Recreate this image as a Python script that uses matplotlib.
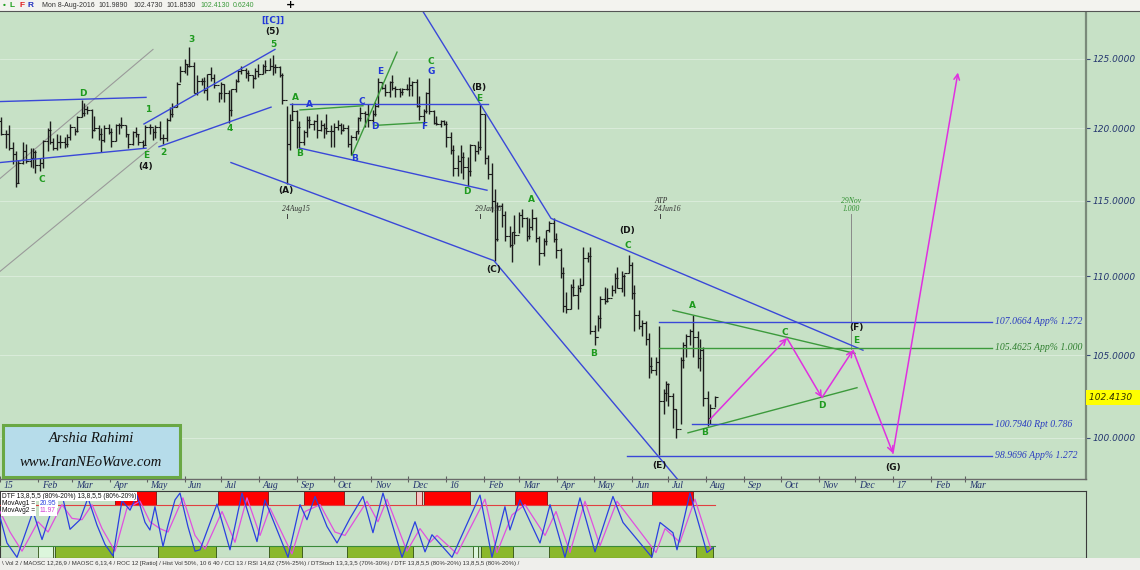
import matplotlib
matplotlib.use("Agg")
import matplotlib.pyplot as plt
import numpy as np
import pandas as pd
from matplotlib.patches import Rectangle
from matplotlib import transforms
from matplotlib.ticker import NullLocator

# ---------------------------------------------------------------- data
ORIGIN = pd.Timestamp("2015-01-01")          # x axis = days since this date

# USDJPY, two-day OHLC bars (one line per month), Jan 2015 .. 8 Aug 2016
bar_high = [
    120.8, 119.9, 120.2, 119.0, 118.4, 117.8, 119.0, 118.9, 118.6, 118.6, 118.5,
    117.9, 119.2, 120.0, 120.5, 119.3, 119.6, 119.5, 119.4, 119.6, 120.3,
    120.0, 120.9, 122.0, 121.8, 121.6, 121.4, 120.9, 120.2, 120.0, 120.2, 120.3,
    120.0, 120.3, 120.4, 120.8, 120.2, 119.6, 119.8, 120.1, 119.6, 119.2, 120.2,
    120.3, 120.0, 120.2, 120.5, 119.6, 120.7, 121.5, 121.8, 123.3, 124.5,
    125.0, 124.6, 125.86, 124.8, 123.8, 123.6, 123.7, 123.9, 124.4, 123.9, 122.6,
    123.3, 123.2, 122.7, 122.8, 123.5, 124.2, 124.5, 124.3, 124.2, 123.8, 124.3, 124.6,
    124.6, 124.9, 125.1, 125.3, 124.6, 124.5, 124.0, 121.6, 121.0, 121.8,
    121.3, 120.5, 119.9, 120.9, 120.9, 120.6, 121.0, 120.6, 120.4, 121.0, 120.2,
    120.4, 120.6, 120.4, 120.3, 120.2, 119.5, 119.8, 120.8, 121.5, 121.2, 121.7,
    121.3, 121.9, 123.6, 123.3, 123.2, 123.4, 123.8, 123.0, 122.9, 122.9, 123.2,
    123.7, 123.4, 123.5, 122.3, 121.4, 122.6, 123.6, 121.3, 120.9, 120.6, 120.6,
    120.5, 119.7, 118.8, 118.1, 118.8, 118.3, 118.0, 118.9, 118.8, 119.1, 121.7,
    121.0, 118.1, 117.6, 115.8, 114.9, 114.8, 114.3, 113.3, 112.9, 114.0,
    114.2, 114.4, 113.9, 113.8, 114.4, 113.9, 112.6, 112.5, 113.0, 113.6, 113.8, 112.8,
    111.8, 110.6, 109.0, 109.5, 109.8, 109.4, 109.9, 111.9, 111.6, 111.9,
    106.9, 107.5, 108.7, 109.3, 109.2, 109.4, 110.2, 110.6, 110.3, 110.1, 111.4,
    110.9, 109.4, 107.8, 107.2, 107.1, 106.4, 104.9, 104.9, 106.8, 102.9, 103.4,
    103.3, 102.7, 101.7, 104.9, 105.8, 106.3, 106.6, 107.5, 106.5, 106.0, 105.5,
    102.8, 102.0, 102.473,
]
bar_low = [
    119.5, 118.6, 118.5, 117.5, 115.9, 116.2, 117.5, 117.6, 117.3, 117.2, 116.9,
    117.0, 117.2, 118.4, 118.9, 118.5, 118.5, 118.6, 118.6, 118.7, 119.2,
    119.5, 119.7, 120.8, 120.9, 121.0, 119.3, 119.8, 119.2, 118.3, 119.0, 119.6,
    118.7, 119.1, 119.6, 120.0, 119.4, 118.6, 118.8, 119.4, 118.8, 118.6, 118.8,
    119.6, 119.2, 119.3, 119.2, 118.9, 119.1, 120.5, 120.8, 121.5, 123.3,
    124.0, 123.8, 124.4, 122.5, 122.4, 123.1, 122.5, 122.0, 123.4, 122.9, 121.9,
    122.1, 121.9, 120.4, 120.9, 122.6, 123.3, 123.9, 123.6, 123.4, 122.9, 123.5, 123.7,
    123.9, 124.0, 124.2, 123.8, 124.0, 123.7, 121.7, 116.15, 118.5, 120.6,
    118.6, 118.6, 118.8, 119.4, 120.0, 119.9, 119.3, 119.8, 119.3, 119.6, 118.7,
    118.7, 119.9, 119.6, 119.8, 118.7, 118.1, 119.2, 119.6, 120.5, 120.1, 120.1,
    120.3, 120.9, 121.5, 122.8, 122.3, 122.2, 122.7, 122.2, 122.2, 122.4, 122.7,
    122.3, 122.3, 121.5, 120.6, 120.3, 121.1, 121.0, 120.3, 120.2, 120.1, 120.2,
    118.7, 118.2, 116.7, 116.7, 116.9, 116.5, 116.0, 116.7, 117.7, 118.2, 118.5,
    117.5, 116.5, 114.2, 111.0, 112.3, 113.2, 112.3, 111.9, 110.9, 112.1,
    112.8, 113.2, 112.3, 112.4, 113.0, 112.2, 110.7, 111.3, 112.0, 112.9, 112.2, 111.2,
    109.9, 107.7, 107.6, 107.9, 108.7, 107.9, 109.0, 109.4, 110.9, 106.3,
    105.6, 106.5, 106.7, 108.2, 108.3, 108.7, 108.9, 109.2, 109.0, 108.7, 110.2,
    108.5, 106.5, 106.6, 106.2, 105.6, 103.6, 103.9, 103.8, 99.0, 101.4, 102.2,
    101.9, 100.6, 100.0, 100.8, 104.2, 104.9, 105.6, 104.9, 104.2, 104.0, 101.9,
    100.7, 100.8, 101.853,
]
bar_close = [
    119.6, 119.6, 118.6, 118.2, 116.2, 117.6, 118.4, 117.7, 117.9, 118.3, 117.4,
    117.6, 119.1, 119.9, 119.0, 118.6, 119.0, 119.0, 118.9, 119.4, 120.1,
    119.8, 120.8, 121.1, 121.4, 121.3, 119.9, 120.0, 119.6, 119.2, 120.0, 119.7,
    119.1, 120.2, 120.2, 120.2, 119.6, 118.9, 119.7, 119.6, 119.0, 118.8, 120.1,
    120.1, 119.7, 120.1, 119.3, 119.3, 120.6, 121.0, 121.5, 123.2, 124.1,
    124.6, 124.5, 124.5, 122.5, 123.4, 123.4, 122.7, 123.9, 123.6, 123.1, 122.5,
    123.2, 122.5, 121.3, 122.8, 123.4, 124.1, 124.2, 124.0, 123.8, 123.6, 124.1, 123.9,
    124.5, 124.2, 124.5, 124.4, 124.4, 123.8, 122.0, 118.9, 120.6, 121.2,
    120.1, 119.0, 119.7, 120.6, 120.3, 120.5, 119.9, 120.2, 120.0, 119.8, 119.8,
    120.1, 120.2, 119.9, 120.0, 118.9, 119.4, 119.8, 120.7, 121.1, 121.0, 120.6,
    121.0, 121.6, 123.3, 122.9, 122.6, 123.3, 122.9, 122.8, 122.6, 122.8, 122.8,
    123.1, 123.3, 121.6, 120.9, 121.2, 122.5, 121.2, 120.4, 120.3, 120.5, 120.3,
    119.4, 118.5, 117.2, 117.7, 118.0, 117.3, 117.0, 118.8, 118.4, 118.7, 121.0,
    117.9, 116.8, 115.0, 112.4, 114.6, 114.0, 112.6, 112.0, 112.9, 112.7,
    114.0, 113.8, 112.6, 113.2, 113.8, 112.5, 111.5, 112.3, 113.0, 113.5, 112.4, 111.7,
    110.2, 108.1, 107.9, 109.3, 108.8, 109.2, 109.4, 111.2, 111.3, 106.5,
    106.1, 107.3, 108.5, 108.4, 108.6, 109.1, 109.9, 109.2, 110.0, 110.2, 110.7,
    108.9, 107.5, 106.8, 107.0, 106.0, 104.3, 104.1, 104.6, 102.2, 102.7, 103.2,
    102.5, 101.7, 100.5, 104.7, 105.6, 106.2, 106.5, 106.1, 104.8, 105.3, 102.4,
    101.2, 101.8, 102.413,
]
first_open = 120.5

# header (last bar)
header_date = "Mon 8-Aug-2016"
header_ohlc = [101.9890, 102.4730, 101.8530, 102.4130]
header_change = 0.6240
last_price = 102.4130

# price-axis ticks
price_ticks = [100, 105, 110, 115, 120, 125]

# trend lines: lists of (day, price)
grey_trendlines = [
    [(0, 116.5), (125.2, 125.7)],
    [(0, 110.3), (128.5, 119.0)],
]
blue_trendlines = [
    [(0, 121.9), (119.5, 122.2)],
    [(0, 117.6), (119.5, 118.6)],
    [(117.8, 120.3), (225.0, 125.7)],
    [(130.1, 118.7), (221.8, 121.5)],
    [(189.0, 117.6), (404.2, 111.0), (564.6, 96.75)],
    [(343.7, 128.9), (450.9, 113.8), (706.2, 105.3)],
    [(237.3, 121.7), (399.3, 121.7)],
    [(245.5, 118.6), (398.5, 115.7)],
]
green_trendlines = [
    [(245.5, 121.3), (297.0, 121.6)],
    [(288.0, 118.1), (324.9, 125.5)],
    [(306.9, 120.2), (346.1, 120.4)],
    [(550.7, 107.8), (699.6, 105.1)],
    [(563.0, 100.3), (701.3, 103.0)],
]

# projected path (magenta arrows)
proj_days = [581.0, 644.0, 672.6, 698.0, 730.7, 783.9]
proj_prices = [101.1, 106.05, 102.4, 105.3, 99.1, 124.0]

# Fibonacci levels
level_prices = [107.0664, 105.4625, 100.7940, 98.9696]
level_texts = ["107.0664 App% 1.272", "105.4625 App% 1.000",
               "100.7940 Rpt 0.786", "98.9696 App% 1.272"]
level_start_days = [539.3, 539.3, 566.3, 513.1]
level_end_day = 811.8
level_colors = ["blue", "green", "blue", "blue"]

# wave labels: (text, day, price, colour)
wave_labels = [
    ("[[C]]", 223.4, 127.9, "blue"), ("(5)", 223.4, 127.0, "black"),
    ("5", 223.4, 126.1, "green"), ("3", 156.3, 126.4, "green"),
    ("D", 67.9, 122.5, "green"), ("1", 121.1, 121.3, "green"),
    ("2", 133.4, 118.3, "green"), ("4", 188.2, 120.0, "green"),
    ("C", 34.4, 116.4, "green"), ("E", 119.5, 118.1, "green"),
    ("(4)", 119.5, 117.3, "black"), ("(A)", 234.0, 115.7, "black"),
    ("A", 241.4, 122.2, "green"), ("A", 252.9, 121.7, "blue"),
    ("B", 245.5, 118.2, "green"), ("B", 290.5, 117.9, "blue"),
    ("C", 296.2, 121.9, "blue"), ("D", 306.9, 120.1, "blue"),
    ("E", 311.0, 124.1, "blue"), ("F", 347.0, 120.1, "blue"),
    ("C", 352.7, 124.8, "green"), ("G", 352.7, 124.1, "blue"),
    ("(B)", 392.0, 122.9, "black"), ("E", 392.0, 122.1, "green"),
    ("D", 382.1, 115.6, "green"), ("(C)", 404.2, 110.4, "black"),
    ("A", 435.3, 115.1, "green"), ("B", 486.1, 105.1, "green"),
    ("(D)", 513.1, 113.0, "black"), ("C", 513.9, 112.0, "green"),
    ("A", 566.3, 108.1, "green"), ("B", 576.9, 100.3, "green"),
    ("(E)", 539.3, 98.4, "black"), ("C", 642.4, 106.4, "green"),
    ("D", 672.6, 101.95, "green"), ("(F)", 700.5, 106.7, "black"),
    ("E", 700.5, 105.9, "green"), ("(G)", 730.7, 98.3, "black"),
]

# date markers: (day, text lines)
marker_days = [235, 393, 540]
marker_texts = [["24Aug15"], ["29Jan16"], ["ATP", "24Jun16"]]
target_day = 696.4
target_texts = ["29Nov", "1.000"]
target_range = (105.4, 114.1)

# DTF oscillator (value 0-100)
osc_blue_days = [0.0, 5.7, 13.9, 27.0, 34.4, 45.0, 50.7, 57.3, 65.5, 72.0, 79.4, 85.9,
                 92.5, 99.8, 106.4, 112.1, 118.7, 122.7, 126.8, 133.4, 137.5, 143.2,
                 147.3, 153.8, 159.6, 163.7, 177.6, 188.2, 198.0, 210.3, 216.8, 235.7,
                 245.5, 251.2, 257.8, 267.6, 275.8, 286.4, 297.0, 305.2, 313.4, 329.0,
                 339.6, 347.8, 353.5, 369.9, 392.8, 402.6, 413.2, 417.3, 425.5, 441.9,
                 450.1, 462.3, 474.6, 486.9, 501.6, 509.8, 533.5, 540.1, 550.7, 554.0,
                 564.6, 578.5, 583.4]
osc_blue_vals = [62, 24, 3, 70, 29, 87, 95, 44, 58, 90, 50, 22,
                 5, 86, 72, 94, 54, 43, 77, 19, 50, 87,
                 97, 48, 12, 14, 81, 14, 97, 26, 87, 3,
                 80, 58, 92, 48, 24, 60, 92, 39, 97, 3,
                 55, 11, 36, 3, 94, 3, 77, 43, 87, 24,
                 80, 3, 90, 11, 92, 54, 3, 54, 39, 14,
                 97, 10, 17]
osc_mag_days = [0.0, 8.2, 18.0, 31.1, 39.3, 50.7, 58.9, 67.1, 75.3, 83.5, 94.1, 103.9,
                114.6, 122.7, 130.9, 137.5, 149.7, 159.6, 167.8, 181.7, 192.3, 202.1,
                212.8, 220.9, 238.9, 249.6, 261.9, 274.1, 282.3, 300.3, 309.3, 316.7,
                333.0, 343.7, 351.9, 357.6, 374.0, 396.9, 406.7, 419.0, 429.6, 446.0,
                455.0, 466.4, 478.7, 491.0, 504.9, 515.5, 536.8, 544.2, 556.4, 568.7,
                581.8]
osc_mag_vals = [70, 40, 12, 55, 40, 80, 60, 58, 80, 45, 12, 75,
                85, 55, 45, 40, 90, 35, 15, 70, 25, 90,
                35, 75, 8, 70, 80, 40, 35, 85, 55, 88,
                12, 45, 25, 35, 8, 88, 10, 65, 80, 35,
                70, 10, 85, 20, 85, 60, 10, 45, 25, 88,
                15]
osc_upper, osc_lower = 80, 20
red_zones = [(94.1, 127.7), (178.4, 219.3), (248.8, 281.5), (347.0, 384.6),
             (421.4, 447.6), (533.5, 567.1)]
pink_zones = [(340.4, 345.3)]
green_zones = [(45.0, 92.5), (129.3, 176.8), (220.1, 247.1), (284.0, 338.0),
               (393.6, 419.8), (449.3, 532.7), (569.5, 583.4)]
pale_zones = [(31.1, 43.4), (387.1, 391.2)]
movavg1, movavg2 = 20.95, 11.97

status_text = ("\\ Vol 2 / MAOSC 12,26,9 / MAOSC 6,13,4 / ROC 12 [Ratio] / Hist Vol 50%, 10 6 40 "
               "/ CCI 13 / RSI 14,62 (75%-25%) / DTStoch 13,3,3,5 (70%-30%) / "
               "DTF 13,8,5,5 (80%-20%) 13,8,5,5 (80%-20%) /")

# ---------------------------------------------------------------- style
BG = "#c7e1c6"
COL = {"blue": "#2238d8", "green": "#1e9a1e", "black": "#151515"}
LINE_BLUE = "#3a48d8"
LINE_GREEN = "#3c9a3c"
MAG = "#e030e0"
NAVY = "#23336e"
SMALL = "Liberation Sans"

W, H = 1140, 570


def fig_rect(x0, y0, x1, y1):
    return [x0 / W, 1 - y1 / H, (x1 - x0) / W, (y1 - y0) / H]


fig = plt.figure(figsize=(11.4, 5.7), dpi=100, facecolor=BG)
ax = fig.add_axes(fig_rect(0, 12, 1086, 479))
axo = fig.add_axes(fig_rect(0, 491, 1086, 558))
XMAX = 888.7

# ---------------------------------------------------------------- main panel
ax.set_facecolor(BG)
ax.set_yscale("log")
ax.set_xlim(0, XMAX)
ax.set_ylim(97.61, 128.5)
for p in price_ticks:
    ax.axhline(p, color="#ddeedd", lw=0.6, zorder=0)

bar_dates = pd.bdate_range("2015-01-02", "2016-08-08")[::2][:len(bar_high)]
bx = np.asarray((bar_dates - ORIGIN).days, dtype=float)
opens = [first_open] + bar_close[:-1]
ax.vlines(bx, bar_low, bar_high, color="#1c1c1c", lw=1.0, zorder=3)
ax.plot(bx, bar_close, ls="none", marker=1, ms=1.8, mew=0.8, color="#1c1c1c", zorder=3)
ax.plot(bx, opens, ls="none", marker=0, ms=1.8, mew=0.8, color="#1c1c1c", zorder=3)

for ln in grey_trendlines:
    xs, ys = zip(*ln)
    ax.plot(xs, ys, color="#9a9a9a", lw=0.8, zorder=2)
for ln in blue_trendlines:
    xs, ys = zip(*ln)
    ax.plot(xs, ys, color=LINE_BLUE, lw=1.0, zorder=4)
for ln in green_trendlines:
    xs, ys = zip(*ln)
    ax.plot(xs, ys, color=LINE_GREEN, lw=1.0, zorder=4)

for p, t, x0, c in zip(level_prices, level_texts, level_start_days, level_colors):
    lc = LINE_BLUE if c == "blue" else LINE_GREEN
    tc = "#2a3cc0" if c == "blue" else "#2f7f2f"
    ax.plot([x0, level_end_day], [p, p], color=lc, lw=1.0, zorder=4)
    ax.text(level_end_day + 2.5, p, t, color=tc, fontsize=7, fontstyle="italic",
            family="Liberation Serif", va="center", ha="left", zorder=6)

for i in range(len(proj_days) - 1):
    ax.annotate("", xy=(proj_days[i + 1], proj_prices[i + 1]),
                xytext=(proj_days[i], proj_prices[i]),
                arrowprops=dict(arrowstyle="->", color=MAG, lw=1.1,
                                shrinkA=0, shrinkB=0, mutation_scale=10),
                zorder=5)

for t, d, p, c in wave_labels:
    ax.text(d, p, t, color=COL[c], fontsize=6.5, fontweight="bold",
            ha="center", va="center", zorder=7)

for d, lines in zip(marker_days, marker_texts):
    ax.plot([d, d], [113.8, 114.1], color="#404040", lw=0.7, zorder=4)
    for k, t in enumerate(reversed(lines)):
        ax.text(d - 4.5, 114.4 * (1.0048 ** k), t, fontsize=5.5, fontstyle="italic",
                family="Liberation Serif", color="#303030", ha="left", va="center")
ax.plot([target_day, target_day], target_range, color="#8a8a8a", lw=0.7, zorder=2)
ax.text(target_day, 114.95, target_texts[0], fontsize=5.5, fontstyle="italic",
        family="Liberation Serif", color="#2f8f2f", ha="center", va="center")
ax.text(target_day, 114.4, target_texts[1], fontsize=5.5, fontstyle="italic",
        family="Liberation Serif", color="#2f8f2f", ha="center", va="center")

# axes / ticks
ax.set_yticks(price_ticks, labels=[f"{p:.4f}" for p in price_ticks],
              fontstyle="italic", fontsize=6.5, color="#263870")
ax.yaxis.set_minor_locator(NullLocator())
ax.tick_params(axis="y", which="both", left=False, right=True, labelleft=False,
               labelright=True, length=3, width=0.8, color="#3a4a7a", pad=1.5)
months = pd.date_range("2015-01-01", "2017-03-01", freq="MS")
month_days = np.asarray((months - ORIGIN).days, dtype=float)
month_labels = [m.strftime("%y") if m.month == 1 else m.strftime("%b") for m in months]
ax.set_xticks(month_days)
ax.set_xticklabels([])
ax.tick_params(axis="x", direction="inout", length=4, width=0.8, color="#606060")
blend = transforms.blended_transform_factory(ax.transData, ax.transAxes)
for d, lab in zip(month_days, month_labels):
    ax.text(d + 3, -0.004, lab, transform=blend, fontsize=7, fontstyle="italic",
            family="Liberation Serif", color=NAVY, ha="left", va="top")
for s in ("left", "top"):
    ax.spines[s].set_visible(False)
ax.spines["bottom"].set_color("#6a6a6a")
ax.spines["bottom"].set_linewidth(1.0)
ax.spines["right"].set_color("#7a8a7a")
ax.spines["right"].set_linewidth(1.6)

yblend = transforms.blended_transform_factory(ax.transAxes, ax.transData)
ax.text(1.0025, last_price, f"{last_price:.4f}   ", transform=yblend, fontsize=6.5,
        fontstyle="italic", color="#333300", ha="left", va="center", zorder=8,
        bbox=dict(boxstyle="square,pad=0.35", facecolor="#ffff00", edgecolor="none"))

# ---------------------------------------------------------------- oscillator
axo.set_facecolor(BG)
axo.set_xlim(0, XMAX)
axo.set_ylim(2, 100)
axo.set_xticks([])
axo.set_yticks([])
for s in axo.spines.values():
    s.set_color("#3a3a3a")
    s.set_linewidth(0.8)
for a, b in red_zones:
    axo.add_patch(Rectangle((a, osc_upper), b - a, 100 - osc_upper, facecolor="#ff0000",
                            edgecolor="#7a1010", lw=0.6, zorder=2))
for a, b in pink_zones:
    axo.add_patch(Rectangle((a, osc_upper), b - a, 100 - osc_upper, facecolor="#f8c4c4",
                            edgecolor="#7a1010", lw=0.6, zorder=2))
for a, b in green_zones:
    axo.add_patch(Rectangle((a, 2), b - a, osc_lower - 2, facecolor="#8bb82c",
                            edgecolor="#2e4e10", lw=0.6, zorder=2))
for a, b in pale_zones:
    axo.add_patch(Rectangle((a, 2), b - a, osc_lower - 2, facecolor="#dcf6dc",
                            edgecolor="#2e4e10", lw=0.6, zorder=2))
axo.plot([0, bx[-1]], [osc_upper, osc_upper], color="#e04040", lw=0.8, zorder=3)
axo.plot([0, bx[-1]], [osc_lower, osc_lower], color="#3a8a3a", lw=0.8, zorder=3)
axo.plot(osc_mag_days, osc_mag_vals, color="#e050e0", lw=0.9, zorder=4)
axo.plot(osc_blue_days, osc_blue_vals, color="#2a40e0", lw=0.9, zorder=5)

wbox = dict(boxstyle="square,pad=0.15", facecolor="white", edgecolor="none")
fig.text(2 / W, 1 - 496 / H, "DTF 13,8,5,5 (80%-20%) 13,8,5,5 (80%-20%)", fontsize=4.8,
         family=SMALL, color="#111111", va="center", ha="left", zorder=10, bbox=wbox)
fig.text(2 / W, 1 - 503.5 / H, "MovAvg1 =", fontsize=4.8, family=SMALL, color="#111111",
         va="center", ha="left", zorder=10, bbox=wbox)
fig.text(40 / W, 1 - 503.5 / H, f"{movavg1:.2f}", fontsize=4.8, family=SMALL,
         color="#2a40e0", va="center", ha="left", zorder=10, bbox=wbox)
fig.text(2 / W, 1 - 511 / H, "MovAvg2 =", fontsize=4.8, family=SMALL, color="#111111",
         va="center", ha="left", zorder=10, bbox=wbox)
fig.text(40 / W, 1 - 511 / H, f"{movavg2:.2f}", fontsize=4.8, family=SMALL,
         color="#d040d0", va="center", ha="left", zorder=10, bbox=wbox)

# ---------------------------------------------------------------- header / status / box
fig.add_artist(Rectangle((0, 1 - 11 / H), 1, 11 / H, transform=fig.transFigure,
                         facecolor="#f3f3ef", edgecolor="none", zorder=5))
fig.add_artist(plt.Line2D([0, 1], [1 - 11 / H, 1 - 11 / H], transform=fig.transFigure,
                          color="#555555", lw=0.8, zorder=6))
hy = 1 - 5.5 / H
for t, x, c in [("\u2022", 3, "#20a020"), ("L", 10, "#20a020"),
                ("F", 19, "#e02020"), ("R", 27, "#2030c0")]:
    fig.text(x / W, hy, t, color=c, fontsize=6, fontweight="bold", family=SMALL,
             va="center", zorder=7)
fig.text(42 / W, hy, header_date, color="#333333", fontsize=5, family=SMALL,
         va="center", zorder=7)
for v, x in zip(header_ohlc[:3], [98, 133, 166]):
    fig.text(x / W, hy, f"{v:.4f}", color="#333333", fontsize=5, family=SMALL,
             va="center", zorder=7)
fig.text(200 / W, hy, f"{header_ohlc[3]:.4f}", color="#3a9a3a", fontsize=5,
         family=SMALL, va="center", zorder=7)
fig.text(233 / W, hy, f"{header_change:.4f}", color="#3a9a3a", fontsize=5,
         family=SMALL, va="center", zorder=7)
fig.text(286 / W, hy, "+", color="#000000", fontsize=8, fontweight="bold", va="center",
         zorder=7)

fig.add_artist(Rectangle((0, 0), 1, 12 / H, transform=fig.transFigure,
                         facecolor="#efefec", edgecolor="none", zorder=5))
fig.text(2 / W, 6 / H, status_text, fontsize=4.3, color="#333333", va="center", ha="left",
         family=SMALL, zorder=7)

fig.add_artist(Rectangle((3 / W, 1 - 477 / H), 177 / W, 52 / H, transform=fig.transFigure,
                         facecolor="#b6dcea", edgecolor="#6aa844", lw=2.2, zorder=8))
fig.text(91 / W, 1 - 439 / H, "Arshia Rahimi", fontsize=10.5, fontstyle="italic",
         family="Liberation Serif", color="#111111", ha="center", va="center", zorder=9)
fig.text(91 / W, 1 - 462 / H, "www.IranNEoWave.com", fontsize=10.5, fontstyle="italic",
         family="Liberation Serif", color="#111111", ha="center", va="center", zorder=9)

fig.savefig("out.png", dpi=100, facecolor=BG)
